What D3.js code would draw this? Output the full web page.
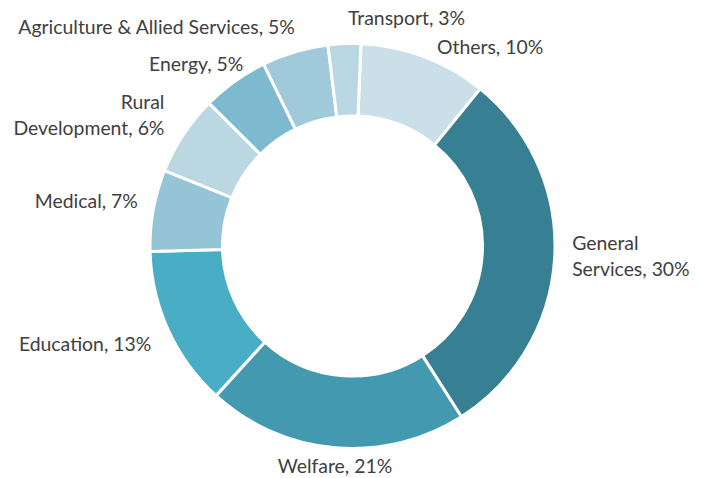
<!DOCTYPE html>
<html>
<head>
<meta charset="utf-8">
<script src="https://cdn.jsdelivr.net/npm/d3@7/dist/d3.min.js"></script>
<style>
  body { margin: 0; background: #fff; }
  svg { display: block; }
</style>
</head>
<body>
<div id="chart"></div>
<script>
// data, clockwise from the top
const categories = ["Others", "General\nServices", "Welfare", "Education", "Medical",
  "Rural\nDevelopment", "Energy", "Agriculture & Allied Services", "Transport"];
const shares = [10.2, 30.1, 20.8, 12.8, 6.5, 6.4, 5.3, 5.3, 2.6];
const colors = ["#cadfe8", "#377f93", "#4399af", "#4aadc6", "#94c4d6",
  "#bad7e2", "#7dbad0", "#a0c9d9", "#b8d7e3"];

const width = 704, height = 478;
const cx = 352.5, cy = 246;
const outerR = 202.5, innerR = 130;
const startDeg = 2.4;

// labels that were pushed aside to avoid collisions
const labelNudge = {
  "Others": [34, 18],
  "General\nServices": [2, -4],
  "Welfare": [8, -9.5],
  "Education": [-3, 0],
  "Medical": [0, -3],
  "Rural\nDevelopment": [-6, 9],
  "Energy": [9, 8],
  "Agriculture & Allied Services": [-79, 3],
  "Transport": [66, 3]
};

const svg = d3.select("#chart").append("svg")
  .attr("width", width)
  .attr("height", height);

const g = svg.append("g").attr("transform", `translate(${cx},${cy})`);

const rows = categories.map((c, i) => ({ name: c, value: shares[i], color: colors[i] }));

const start = startDeg * Math.PI / 180;
const pie = d3.pie()
  .value(d => d.value)
  .sort(null)
  .startAngle(start)
  .endAngle(start + 2 * Math.PI);

const arc = d3.arc().innerRadius(innerR).outerRadius(outerR);

const arcs = pie(rows);

g.selectAll("path.slice")
  .data(arcs)
  .join("path")
  .attr("class", "slice")
  .attr("d", arc)
  .attr("fill", d => d.data.color)
  .attr("stroke", "#fff")
  .attr("stroke-width", 3)
  .attr("stroke-linejoin", "round");

// labels, placed just outside the ring
const labelR = outerR + 15.5;
const lineH = 26;
const f = v => Math.max(-1, Math.min(1, v * 1.4));

const labels = g.selectAll("text.lbl")
  .data(arcs)
  .join("text")
  .attr("class", "lbl")
  .attr("font-family", "Lato, 'Open Sans', sans-serif")
  .attr("font-size", 19.4)
  .attr("fill", "#404040");

labels.each(function(d) {
  const t = d3.select(this);
  const lines = d.data.name.split("\n");
  lines[lines.length - 1] += ", " + Math.round(d.data.value) + "%";
  const a = (d.startAngle + d.endAngle) / 2;
  const s = Math.sin(a), c = -Math.cos(a);
  const px = labelR * s, py = labelR * c;
  const tsp = t.selectAll("tspan").data(lines).join("tspan").text(l => l);
  const w = this.getBBox().width, h = lines.length * lineH;
  const nudge = labelNudge[d.data.name] || [0, 0];
  const bx = px + (w / 2) * f(s) + nudge[0];
  const by = py + (h / 2) * f(c) + nudge[1];
  const anchor = s > 0.3 ? "start" : s < -0.3 ? "end" : "middle";
  const tx = anchor === "start" ? bx - w / 2 : anchor === "end" ? bx + w / 2 : bx;
  t.attr("text-anchor", anchor);
  tsp.attr("x", tx)
    .attr("y", (l, i) => by - h / 2 + lineH * i + lineH / 2)
    .attr("dy", "0.35em");
});
</script>
</body>
</html>
